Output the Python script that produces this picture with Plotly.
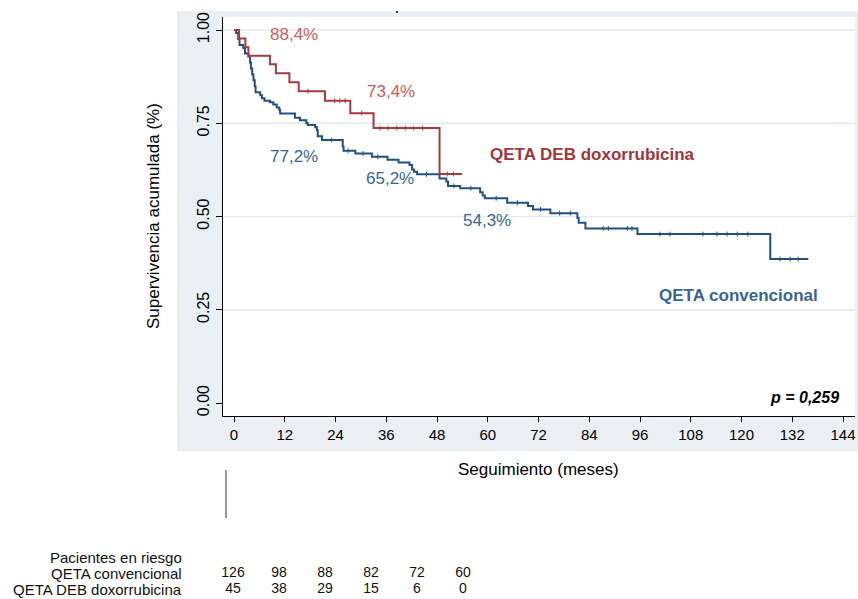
import plotly.graph_objects as go

# ---------------- data ----------------
months_ticks = list(range(0, 145, 12))
y_ticks = [0.0, 0.25, 0.50, 0.75, 1.00]
y_ticklabels = ["0.00", "0.25", "0.50", "0.75", "1.00"]
grid_vals = [0.25, 0.50, 0.75, 1.00]

# QETA convencional (Kaplan-Meier steps)
conv_t = [0, 0.5, 1.0, 1.3, 2.2, 2.6, 3.4, 3.8, 4.0, 4.3, 4.6, 4.9, 5.1, 6.2, 6.6, 7.2,
          8.5, 9.3, 10.1, 10.7, 10.9, 14.4, 15.6, 17.1, 17.4, 19.2, 19.6, 19.8, 20.8,
          25.7, 25.9, 28.7, 32.6, 36.3, 38.9, 41.5, 42.1, 42.6, 43.3, 48.6, 50.2, 50.6,
          53.5, 58.2, 58.8, 59.3, 64.6, 69.5, 70.7, 74.8, 81.2, 81.5, 83.1, 95.4, 126.8, 135.8]
conv_s = [1.0, 0.992, 0.976, 0.960, 0.952, 0.937, 0.929, 0.913, 0.897, 0.881, 0.865, 0.849,
          0.833, 0.825, 0.817, 0.810, 0.806, 0.800, 0.792, 0.786, 0.776, 0.765, 0.758, 0.751,
          0.745, 0.739, 0.731, 0.715, 0.705, 0.688, 0.676, 0.669, 0.660, 0.652, 0.645, 0.638,
          0.626, 0.620, 0.613, 0.602, 0.594, 0.582, 0.576, 0.565, 0.556, 0.549, 0.537, 0.528,
          0.519, 0.509, 0.496, 0.483, 0.468, 0.453, 0.386, 0.386]
conv_cens = [23.0, 27.0, 30.5, 34.0, 45.5, 52.0, 56.0, 62.0, 67.0, 72.5, 77.0, 79.5,
             87.3, 88.5, 93.0, 94.1, 100.7, 103.1, 110.9, 114.2, 116.6, 119.0, 121.5,
             129.1, 131.5, 133.4]

# QETA DEB doxorrubicina
deb_t = [0, 1.2, 2.7, 3.4, 8.5, 9.9, 13.1, 15.3, 21.5, 27.5, 33.0, 48.6, 53.9]
deb_s = [1.0, 0.977, 0.954, 0.931, 0.908, 0.884, 0.860, 0.836, 0.810, 0.777, 0.737, 0.614, 0.614]
deb_cens = [17.5, 23.8, 25.0, 26.3, 30.2, 34.5, 36.4, 38.5, 40.5, 42.5, 44.6, 50.4, 51.9]

# at-risk table
risk_times = [0, 12, 24, 36, 48, 60]
risk_conv = [126, 98, 88, 82, 72, 60]
risk_deb = [45, 38, 29, 15, 6, 0]

# survival point labels
conv_labels = ["77,2%", "65,2%", "54,3%"]
deb_labels = ["88,4%", "73,4%"]

# ---------------- style ----------------
W, H = 858, 599
FONT = "Liberation Sans, Arial, sans-serif"
BG = "#e9eff2"
BLUE_LINE = "#22507f"
BLUE_TXT = "#3a6496"
RED_LINE = "#a63a40"
RED_TXT = "#cf5b5b"
RED_LBL = "#a0353a"


def px_x(p):
    return p / W


def px_y(p):
    return 1 - p / H


def surv_at(ts, ss, t):
    idx = 0
    for i, tt in enumerate(ts):
        if tt <= t:
            idx = i
    return ss[idx]


fig = go.Figure()

fig.add_trace(go.Scatter(x=conv_t, y=conv_s, mode="lines", line=dict(shape="hv", color=BLUE_LINE, width=2),
                         name="QETA convencional", showlegend=False, hoverinfo="skip"))
fig.add_trace(go.Scatter(x=conv_cens, y=[surv_at(conv_t, conv_s, t) for t in conv_cens], mode="markers",
                         marker=dict(symbol="line-ns", size=3.5, line=dict(color=BLUE_LINE, width=1)),
                         showlegend=False, hoverinfo="skip"))
fig.add_trace(go.Scatter(x=deb_t, y=deb_s, mode="lines", line=dict(shape="hv", color=RED_LINE, width=2),
                         name="QETA DEB doxorrubicina", showlegend=False, hoverinfo="skip"))
fig.add_trace(go.Scatter(x=deb_cens, y=[surv_at(deb_t, deb_s, t) for t in deb_cens], mode="markers",
                         marker=dict(symbol="line-ns", size=3.5, line=dict(color=RED_LINE, width=1)),
                         showlegend=False, hoverinfo="skip"))

# at-risk numbers on an invisible helper axis
fig.add_trace(go.Scatter(x=risk_times, y=[1] * len(risk_times), text=[str(v) for v in risk_conv],
                         mode="text", textfont=dict(family=FONT, size=14, color="#111"),
                         xaxis="x2", yaxis="y2", showlegend=False, hoverinfo="skip"))
fig.add_trace(go.Scatter(x=risk_times, y=[0] * len(risk_times), text=[str(v) for v in risk_deb],
                         mode="text", textfont=dict(family=FONT, size=14, color="#111"),
                         xaxis="x2", yaxis="y2", showlegend=False, hoverinfo="skip"))

# geometry (pixels)
left, right, top, bottom = 223, 855, 17, 416
x0_px, x144_px = 234, 843
ppx = (x144_px - x0_px) / 144.0
y0_px, y1_px = 403, 30
ppy = (y0_px - y1_px)

xr = [-(x0_px - left) / ppx, 144 + (right - x144_px) / ppx]
yr = [-(bottom - y0_px) / ppy, 1 + (y1_px - top) / ppy]

fig.update_layout(
    width=W, height=H,
    margin=dict(l=0, r=0, t=0, b=0),
    paper_bgcolor="white",
    plot_bgcolor="rgba(0,0,0,0)",
    font=dict(family=FONT, size=15, color="black"),
    xaxis=dict(domain=[px_x(left), px_x(right)], range=xr, tickvals=months_ticks,
               ticks="outside", ticklen=5, tickwidth=1, tickcolor="black",
               showline=True, linecolor="black", linewidth=1.3, showgrid=False, zeroline=False,
               tickfont=dict(family=FONT, size=15), automargin=False),
    yaxis=dict(domain=[px_y(bottom), px_y(top)], range=yr, tickvals=y_ticks, ticktext=y_ticklabels,
               tickangle=-90, ticks="outside", ticklen=6, tickwidth=1, tickcolor="black",
               showline=True, linecolor="black", linewidth=1.3, showgrid=False, zeroline=False,
               tickfont=dict(family=FONT, size=16), automargin=False),
    xaxis2=dict(domain=[0, 1], range=[-233 / (230 / 60.0), (W - 233) / (230 / 60.0)], visible=False,
                anchor="y2"),
    yaxis2=dict(domain=[0, 1], range=[-(H - 589) / 16.0, 589 / 16.0], visible=False, anchor="x2"),
)

shapes = [
    dict(type="rect", xref="paper", yref="paper", x0=px_x(177), x1=1, y0=px_y(451), y1=px_y(11),
         fillcolor=BG, line=dict(width=0), layer="below"),
    dict(type="rect", xref="paper", yref="paper", x0=px_x(left), x1=px_x(right), y0=px_y(bottom), y1=px_y(top),
         fillcolor="white", line=dict(width=0), layer="below"),
    dict(type="line", xref="paper", yref="paper", x0=px_x(226), x1=px_x(226), y0=px_y(470), y1=px_y(518),
         line=dict(color="#333333", width=1)),
    dict(type="rect", xref="paper", yref="paper", x0=px_x(396), x1=px_x(398), y0=px_y(13), y1=px_y(11),
         fillcolor="#333a44", line=dict(width=0)),
]
for g in grid_vals:
    shapes.append(dict(type="line", xref="paper", yref="y", x0=px_x(left + 1), x1=px_x(right), y0=g, y1=g,
                       line=dict(color="#e3eaef", width=1.6), layer="below"))
fig.update_layout(shapes=shapes)

ann = []


def add_ann(x, y, text, ref="data", xanchor="center", size=17, color="black", angle=0, family=FONT):
    r = ("x", "y") if ref == "data" else ("paper", "paper")
    ann.append(dict(x=x, y=y, xref=r[0], yref=r[1], text=text, showarrow=False, xanchor=xanchor,
                    yanchor="middle", textangle=angle, font=dict(family=family, size=size, color=color)))


for txt, (xx, yy) in zip(deb_labels, [(14.2, 0.989), (37.1, 0.836)]):
    add_ann(xx, yy, txt, size=17, color=RED_TXT)
for txt, (xx, yy) in zip(conv_labels, [(14.2, 0.662), (36.9, 0.603), (59.8, 0.488)]):
    add_ann(xx, yy, txt, size=17, color=BLUE_TXT)
add_ann(84.7, 0.665, "<b>QETA DEB doxorrubicina</b>", size=17, color=RED_LBL)
add_ann(119.2, 0.287, "<b>QETA convencional</b>", size=17, color=BLUE_TXT)
add_ann(143.5, 0.016, "<b><i>p = 0,259</i></b>", xanchor="right", size=16)
# axis titles
add_ann(px_x(153), px_y(216), "Supervivencia acumulada (%)", ref="paper", size=17, angle=-90)
add_ann(px_x(538), px_y(469), "Seguimiento (meses)", ref="paper", size=17)
# risk table labels
for txt, yp in [("Pacientes en riesgo", 557), ("QETA convencional", 573), ("QETA DEB doxorrubicina", 589)]:
    add_ann(px_x(184), px_y(yp), txt, ref="paper", xanchor="right", size=15, color="#111")
fig.update_layout(annotations=ann)

fig.write_html("out.html")
